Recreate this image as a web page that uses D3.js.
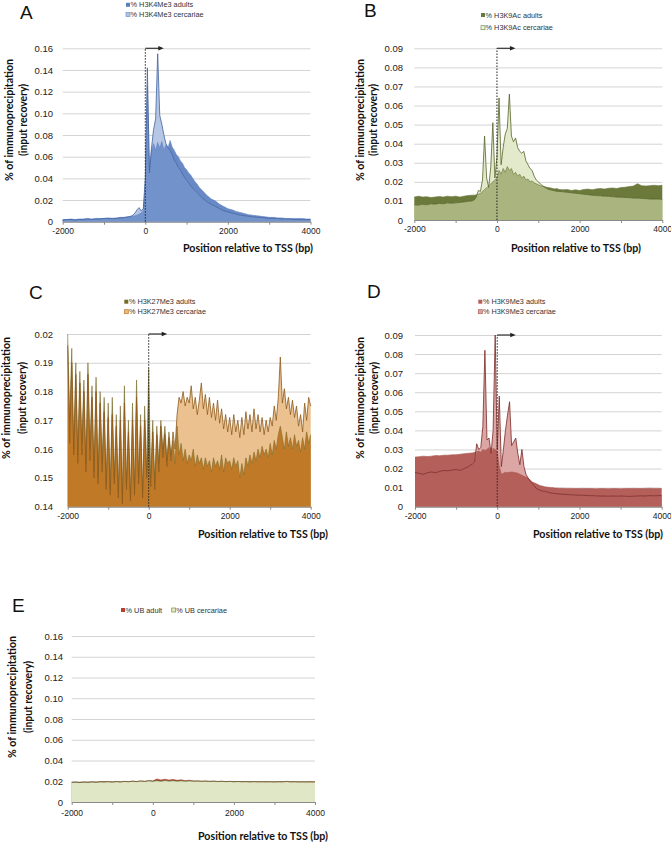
<!DOCTYPE html>
<html><head><meta charset="utf-8">
<script src="https://cdn.jsdelivr.net/npm/d3@7"></script>
<style>body{margin:0;background:#fff}svg{display:block}</style>
</head><body>
<script>
// ---------- shared axis data ----------
const xTickValues = [-2000, -1000, 0, 1000, 2000, 3000, 4000];
const xTickLabels = ["-2000", "", "0", "", "2000", "", "4000"];
const xTitle = "Position relative to TSS (bp)";
const yTitle1 = "% of immunoprecipitation";
const yTitle2 = "(input recovery)";

// positions (bp) used by panels A, B, D
const posABD = [-2000,-1900,-1800,-1700,-1600,-1500,-1400,-1300,-1200,-1100,-1000,-900,-800,-700,-600,
  -550,-500,-450,-400,-350,-300,-250,-200,-150,-100,
  -50,0,50,100,150,200,250,300,350,400,
  450,500,550,600,650,700,750,800,850,900,
  950,1000,1050,1100,1150,1200,1250,1300,1350,1400,
  1450,1500,
  1600,1700,1800,1900,2000,2100,2200,2300,2400,2500,2600,2700,2800,2900,3000,3100,3200,3300,3400,3500,3600,3700,3800,3900,4000];

// positions (bp) for panel C
const posC = [-2000,-1950,-1900,-1850,-1800,-1750,-1700,-1650,-1600,-1550,
  -1500,-1450,-1400,-1350,-1300,-1250,-1200,-1150,-1100,-1050,
  -1000,-950,-900,-850,-800,-750,-700,-650,-600,-550,
  -500,-450,-400,-350,-300,-250,-200,-150,-100,-50,
  0,50,100,150,200,250,300,350,400,450,
  500,550,600,650,700,750,800,850,900,950,
  1000,1050,1100,1150,1200,1250,1300,1350,1400,1450,
  1500,1550,1600,1650,1700,1750,1800,1850,1900,1950,
  2000,2050,2100,2150,2200,2250,2300,2350,2400,2450,
  2500,2550,2600,2650,2700,2750,2800,2850,2900,2950,
  3000,3050,3100,3150,3200,3250,3300,3350,3400,3450,
  3500,3550,3600,3650,3700,3750,3800,3850,3900,3950,
  4000];

// positions (bp) for panel E
const posE = [-2000,-1900,-1800,-1700,-1600,-1500,-1400,-1300,-1200,-1100,
  -1000,-900,-800,-700,-600,-500,-400,-300,-200,-100,
  0,100,200,300,400,500,600,700,800,900,
  1000,1100,1200,1300,1400,1500,1600,1700,1800,1900,
  2000,2100,2200,2300,2400,2500,2600,2700,2800,2900,
  3000,3100,3200,3300,3400,3500,3600,3700,3800,3900,
  4000];

// ---------- Panel A: H3K4Me3 ----------
const h3k4AdultsName = "% H3K4Me3 adults";
const h3k4CercName = "% H3K4Me3 cercariae";
const h3k4Adults = [0.002,0.002,0.0025,0.002,0.0025,0.0025,0.003,0.0025,0.003,0.003,0.003,0.0035,0.003,0.0035,0.004,
  0.004,0.004,0.0045,0.0045,0.005,0.005,0.0055,0.006,0.007,0.008,
  0.010,0.030,0.125,0.050,0.065,0.072,0.066,0.073,0.068,0.074,
  0.066,0.071,0.068,0.075,0.069,0.066,0.062,0.060,0.056,0.054,
  0.050,0.048,0.045,0.043,0.040,0.037,0.035,0.032,0.030,0.028,
  0.026,0.024,
  0.021,0.019,0.016,0.014,0.012,0.011,0.0095,0.0085,0.0075,0.0065,0.006,0.0055,0.005,0.0045,0.004,0.004,0.0035,0.0035,0.003,0.003,0.003,0.003,0.003,0.0025,0.0025];
const h3k4Cerc = [0.0015,0.002,0.002,0.0015,0.002,0.002,0.0025,0.002,0.0025,0.0025,0.003,0.003,0.003,0.003,0.0035,
  0.0035,0.004,0.004,0.0045,0.005,0.006,0.008,0.011,0.013,0.010,
  0.012,0.040,0.142,0.045,0.068,0.085,0.095,0.155,0.098,0.090,
  0.080,0.072,0.068,0.066,0.062,0.057,0.054,0.050,0.048,0.044,
  0.041,0.038,0.036,0.033,0.031,0.029,0.027,0.025,0.023,0.021,
  0.020,0.018,
  0.016,0.014,0.012,0.010,0.009,0.008,0.007,0.006,0.0055,0.005,0.0045,0.004,0.004,0.0035,0.003,0.003,0.003,0.0025,0.0025,0.0025,0.002,0.002,0.002,0.002,0.002];
const yTicksA = [0,0.02,0.04,0.06,0.08,0.10,0.12,0.14,0.16];
const yLabelsA = ["0","0.02","0.04","0.06","0.08","0.10","0.12","0.14","0.16"];

// ---------- Panel B: H3K9Ac ----------
const h3k9acAdultsName = "% H3K9Ac adults";
const h3k9acCercName = "% H3K9Ac cercariae";
const h3k9acAdults = [0.012,0.0125,0.012,0.0122,0.0118,0.012,0.0123,0.012,0.0125,0.0122,0.0125,0.012,0.0125,0.0128,0.013,
  0.013,0.0132,0.0135,0.014,0.015,0.016,0.017,0.018,0.019,0.020,
  0.021,0.022,0.026,0.024,0.027,0.025,0.028,0.026,0.027,0.024,
  0.025,0.023,0.024,0.022,0.023,0.021,0.0215,0.020,0.0205,0.0195,
  0.019,0.0185,0.018,0.0178,0.0175,0.0172,0.017,0.0168,0.0165,0.0163,
  0.0165,0.016,
  0.0158,0.016,0.0155,0.0158,0.0155,0.016,0.0162,0.0158,0.0163,0.0165,0.0162,0.0166,0.0168,0.0165,0.017,0.0172,0.0175,0.0178,0.019,0.018,0.0178,0.018,0.0182,0.018,0.0182];
const h3k9acCerc = [0.008,0.0078,0.0082,0.008,0.0085,0.0083,0.0087,0.0085,0.009,0.0088,0.009,0.0092,0.0095,0.0098,0.010,
  0.0105,0.012,0.0155,0.015,0.021,0.044,0.022,0.017,0.028,0.051,
  0.022,0.033,0.064,0.029,0.038,0.045,0.048,0.066,0.044,0.041,
  0.043,0.038,0.036,0.035,0.036,0.031,0.029,0.027,0.026,0.023,
  0.021,0.020,0.019,0.018,0.0172,0.0165,0.016,0.0158,0.0155,0.0153,
  0.015,0.015,
  0.0148,0.0145,0.0143,0.014,0.0138,0.0135,0.0133,0.013,0.0128,0.0127,0.0125,0.0124,0.0122,0.012,0.012,0.0118,0.0117,0.0115,0.0115,0.0113,0.0112,0.011,0.011,0.011,0.0108];
const yTicksB = [0,0.01,0.02,0.03,0.04,0.05,0.06,0.07,0.08,0.09];
const yLabelsB = ["0","0.01","0.02","0.03","0.04","0.05","0.06","0.07","0.08","0.09"];

// ---------- Panel C: H3K27Me3 ----------
const h3k27AdultsName = "% H3K27Me3 adults";
const h3k27CercName = "% H3K27Me3 cercariae";
const h3k27Adults = [0.200,0.170,0.195,0.160,0.190,0.158,0.187,0.162,0.184,0.155,
  0.190,0.160,0.182,0.152,0.185,0.150,0.180,0.155,0.178,0.148,
  0.176,0.146,0.178,0.150,0.172,0.145,0.175,0.142,0.182,0.148,
  0.170,0.143,0.176,0.146,0.184,0.150,0.172,0.145,0.175,0.152,
  0.188,0.150,0.170,0.148,0.168,0.155,0.170,0.160,0.168,0.156,
  0.166,0.158,0.163,0.155,0.168,0.158,0.162,0.156,0.160,0.155,
  0.158,0.156,0.160,0.154,0.158,0.155,0.157,0.153,0.157,0.154,
  0.156,0.152,0.157,0.154,0.156,0.153,0.158,0.152,0.157,0.155,
  0.156,0.153,0.157,0.154,0.156,0.150,0.155,0.151,0.157,0.154,
  0.158,0.155,0.159,0.156,0.160,0.157,0.161,0.158,0.160,0.157,
  0.162,0.158,0.163,0.160,0.165,0.168,0.164,0.160,0.166,0.161,
  0.164,0.160,0.165,0.161,0.163,0.159,0.164,0.160,0.166,0.162,
  0.165];
const h3k27Cerc = [0.196,0.162,0.190,0.158,0.186,0.155,0.183,0.158,0.180,0.152,
  0.186,0.156,0.178,0.150,0.180,0.148,0.176,0.152,0.173,0.146,
  0.171,0.144,0.172,0.148,0.168,0.143,0.170,0.141,0.176,0.146,
  0.166,0.142,0.170,0.144,0.178,0.148,0.168,0.143,0.170,0.150,
  0.160,0.147,0.166,0.146,0.165,0.152,0.168,0.157,0.165,0.154,
  0.164,0.156,0.166,0.160,0.172,0.178,0.176,0.180,0.175,0.178,
  0.176,0.182,0.174,0.178,0.172,0.177,0.183,0.174,0.179,0.172,
  0.178,0.171,0.176,0.170,0.177,0.169,0.174,0.167,0.172,0.166,
  0.171,0.165,0.172,0.166,0.170,0.164,0.171,0.165,0.173,0.167,
  0.172,0.166,0.174,0.167,0.172,0.166,0.171,0.165,0.170,0.166,
  0.171,0.168,0.175,0.170,0.178,0.192,0.176,0.181,0.174,0.178,
  0.172,0.177,0.171,0.175,0.168,0.172,0.166,0.176,0.170,0.178,
  0.175];
const yTicksC = [0.14,0.15,0.16,0.17,0.18,0.19,0.20];
const yLabelsC = ["0.14","0.15","0.16","0.17","0.18","0.19","0.02"];

// ---------- Panel D: H3K9Me3 ----------
const h3k9meAdultsName = "% H3K9Me3 adults";
const h3k9meCercName = "% H3K9Me3 cercariae";
const h3k9meAdults = [0.026,0.0262,0.0265,0.0263,0.0265,0.0268,0.0267,0.027,0.027,0.0272,0.0272,0.0275,0.0278,0.028,0.0282,
  0.0285,0.0288,0.029,0.0285,0.030,0.0295,0.030,0.031,0.030,0.0305,
  0.030,0.029,0.021,0.017,0.0175,0.018,0.0178,0.018,0.0182,0.018,
  0.0178,0.0175,0.017,0.0165,0.016,0.0155,0.015,0.014,0.013,0.0125,
  0.012,0.0115,0.011,0.0108,0.0105,0.0103,0.0102,0.010,0.010,0.0098,
  0.0098,0.0097,
  0.0097,0.0096,0.0096,0.0095,0.0095,0.0096,0.0095,0.0095,0.0094,0.0095,0.0095,0.0094,0.0095,0.0095,0.0094,0.0095,0.0095,0.0096,0.0095,0.0095,0.0096,0.0097,0.0096,0.0096,0.0095];
const h3k9meCerc = [0.018,0.0175,0.017,0.0178,0.0182,0.0178,0.0185,0.019,0.0188,0.0192,0.0195,0.019,0.020,0.021,0.0225,
  0.0235,0.033,0.030,0.031,0.042,0.082,0.035,0.036,0.028,0.040,
  0.090,0.030,0.058,0.021,0.030,0.040,0.048,0.055,0.032,0.034,
  0.036,0.028,0.022,0.030,0.021,0.017,0.015,0.0135,0.012,0.011,
  0.0095,0.009,0.0085,0.0082,0.008,0.0078,0.0075,0.0072,0.007,0.007,
  0.0068,0.0067,
  0.0065,0.0064,0.0062,0.0062,0.006,0.006,0.0058,0.0058,0.0057,0.0056,0.0056,0.0055,0.0056,0.0055,0.0056,0.0055,0.0054,0.0055,0.0056,0.0057,0.0056,0.0058,0.0057,0.0058,0.0058];
const yTicksD = yTicksB;
const yLabelsD = yLabelsB;

// ---------- Panel E: UB ----------
const ubAdultName = "% UB adult";
const ubCercName = "% UB cercariae";
const ubAdult = [0.0188,0.0190,0.0187,0.0191,0.0189,0.0193,0.0190,0.0194,0.0197,0.0195,
  0.0192,0.0196,0.0193,0.0198,0.0195,0.0200,0.0196,0.0202,0.0198,0.0206,
  0.0203,0.0222,0.0212,0.0220,0.0211,0.0218,0.0209,0.0214,0.0206,0.0210,
  0.0203,0.0202,0.0199,0.0201,0.0198,0.0200,0.0197,0.0199,0.0196,0.0198,
  0.0195,0.0197,0.0195,0.0196,0.0194,0.0196,0.0194,0.0195,0.0194,0.0195,
  0.0193,0.0195,0.0194,0.0197,0.0194,0.0195,0.0193,0.0194,0.0193,0.0194,
  0.0193];
const ubCerc = [0.0190,0.0192,0.0188,0.0193,0.0190,0.0195,0.0191,0.0196,0.0192,0.0197,
  0.0193,0.0198,0.0194,0.0199,0.0196,0.0201,0.0197,0.0203,0.0199,0.0205,
  0.0200,0.0206,0.0201,0.0207,0.0202,0.0206,0.0201,0.0205,0.0200,0.0204,
  0.0201,0.0203,0.0200,0.0202,0.0199,0.0201,0.0198,0.0200,0.0197,0.0199,
  0.0196,0.0198,0.0196,0.0197,0.0195,0.0197,0.0195,0.0196,0.0195,0.0196,
  0.0194,0.0196,0.0195,0.0199,0.0195,0.0196,0.0194,0.0195,0.0194,0.0195,
  0.0194];
const yTicksE = yTicksA;
const yLabelsE = yLabelsA;

// ---------- drawing ----------
const svg = d3.select("body").append("svg")
  .attr("width", 671).attr("height", 842)
  .style("font-family", "'Liberation Sans', Arial, sans-serif");

const TITLE_FONT = "Lato, 'Open Sans', sans-serif";

function panel(cfg) {
  const g = svg.append("g");
  const x = d3.scaleLinear().domain([xTickValues[0], xTickValues[xTickValues.length - 1]]).range([cfg.x0, cfg.x1]);
  const y = d3.scaleLinear().domain([cfg.yTicks[0], cfg.yTicks[cfg.yTicks.length - 1]]).range([cfg.yb, cfg.yt]);

  // grid + y tick labels
  const ya = g.append("g").attr("transform", `translate(${cfg.x0},0)`)
    .call(d3.axisLeft(y).tickValues(cfg.yTicks).tickSize(-(cfg.x1 - cfg.x0)).tickSizeOuter(0)
      .tickPadding(cfg.x0 - cfg.labelRight).tickFormat((d, i) => cfg.yLabels[i]));
  ya.select(".domain").remove();
  ya.selectAll("line").attr("stroke", "#d4d4d4").attr("stroke-width", 1);
  ya.selectAll("text").attr("font-size", 9.5).attr("fill", "#222")
    .style("font-family", "'Liberation Sans', Arial, sans-serif");

  // areas
  const data = cfg.pos.map((p, i) => ({ p, a: cfg.adult[i], c: cfg.cerc[i] }))
    .filter(d => d.a !== undefined && d.c !== undefined);
  const mk = f => d3.area().x(d => x(d.p)).y0(cfg.yb).y1(d => y(f(d)));
  g.append("path").datum(data).attr("d", mk(d => d.a)).attr("fill", cfg.col.aOnly);
  g.append("path").datum(data).attr("d", mk(d => d.c)).attr("fill", cfg.col.cOnly);
  g.append("path").datum(data).attr("d", mk(d => Math.min(d.a, d.c))).attr("fill", cfg.col.mid);
  g.append("path").datum(data).attr("d", d3.line().x(d => x(d.p)).y(d => y(d.a)))
    .attr("fill", "none").attr("stroke", cfg.col.aLine).attr("stroke-width", 0.6);
  g.append("path").datum(data).attr("d", d3.line().x(d => x(d.p)).y(d => y(d.c)))
    .attr("fill", "none").attr("stroke", cfg.col.cLine).attr("stroke-width", 0.8);

  // x axis
  const xa = g.append("g").attr("transform", `translate(0,${cfg.yb})`)
    .call(d3.axisBottom(x).tickValues(xTickValues).tickSize(3).tickSizeOuter(0).tickPadding(cfg.xPad || 3)
      .tickFormat((d, i) => xTickLabels[i]));
  xa.select(".domain").attr("stroke", "#8a8a8a");
  xa.selectAll("line").attr("stroke", "#8a8a8a");
  xa.selectAll("text").attr("font-size", 8.5).attr("fill", "#222")
    .style("font-family", "'Liberation Sans', Arial, sans-serif");

  // TSS marker
  if (cfg.tss) {
    const x0 = x(0);
    g.append("line").attr("x1", x0).attr("x2", x0).attr("y1", cfg.yb).attr("y2", cfg.yt)
      .attr("stroke", "#222").attr("stroke-width", 1).attr("stroke-dasharray", "1.5,1.5");
    g.append("line").attr("x1", x0).attr("x2", x0 + 14).attr("y1", cfg.yt).attr("y2", cfg.yt)
      .attr("stroke", "#333").attr("stroke-width", 1.2);
    g.append("path").attr("d", `M${x0 + 13},${cfg.yt - 2.3}L${x0 + 18.5},${cfg.yt}L${x0 + 13},${cfg.yt + 2.3}Z`)
      .attr("fill", "#222");
  }

  // panel letter
  g.append("text").attr("x", cfg.letter.x).attr("y", cfg.letter.y).text(cfg.letter.t)
    .attr("font-size", 19).attr("fill", "#111");

  // legend
  cfg.legend.forEach(l => {
    g.append("rect").attr("x", l.x).attr("y", l.y - 2).attr("width", 4).attr("height", 4)
      .attr("fill", l.fill).attr("stroke", l.stroke || "none").attr("stroke-width", 0.7);
    g.append("text").attr("x", l.x + 4.6).attr("y", l.y).attr("dy", "0.35em").text(l.t)
      .attr("font-size", 7.3).attr("fill", "#333");
  });

  // axis titles
  g.append("text").attr("x", cfg.xt.right).attr("y", cfg.xt.y).attr("dy", "0.35em")
    .attr("text-anchor", "end").text(xTitle)
    .attr("font-size", 10.5).attr("font-weight", "bold").attr("fill", "#111")
    .style("font-family", TITLE_FONT)
    .attr("textLength", 130).attr("lengthAdjust", "spacingAndGlyphs");
  [[yTitle1, cfg.yt2.cx1, 122], [yTitle2, cfg.yt2.cx2, 72]].forEach(([t, cx, len]) => {
    g.append("text").attr("transform", `translate(${cx},${cfg.yt2.cy}) rotate(-90)`)
      .attr("text-anchor", "middle").attr("dy", "0.35em").text(t)
      .attr("font-size", 10.5).attr("font-weight", "bold").attr("fill", "#111")
      .style("font-family", TITLE_FONT)
      .attr("textLength", len).attr("lengthAdjust", "spacingAndGlyphs");
  });
}

panel({
  pos: posABD, adult: h3k4Adults, cerc: h3k4Cerc, yTicks: yTicksA, yLabels: yLabelsA,
  x0: 62.7, x1: 310.5, yb: 221.7, yt: 48.3, labelRight: 53, tss: true,
  col: { aOnly: "#6889c5", cOnly: "#b6c6e5", mid: "#7192cb", aLine: "#6384c2", cLine: "#43639f" },
  letter: { t: "A", x: 20, y: 19 },
  legend: [{ x: 126, y: 4.8, t: h3k4AdultsName, fill: "#5c7ebf" },
           { x: 126, y: 14.6, t: h3k4CercName, fill: "#b4c5e4", stroke: "#6f90c9" }],
  xt: { right: 313, y: 248 }, yt2: { cx1: 9, cx2: 23, cy: 120 }
});
panel({
  pos: posABD, adult: h3k9acAdults, cerc: h3k9acCerc, yTicks: yTicksB, yLabels: yLabelsB,
  x0: 414.3, x1: 662.3, yb: 220, yt: 48.3, labelRight: 403, tss: true,
  col: { aOnly: "#6b7a3b", cOnly: "#e3eacb", mid: "#a9b47f", aLine: "#65743a", cLine: "#55632a" },
  letter: { t: "B", x: 364, y: 17 },
  legend: [{ x: 481, y: 15, t: h3k9acAdultsName, fill: "#6b7a3b" },
           { x: 481, y: 27.7, t: h3k9acCercName, fill: "#eef2dc", stroke: "#7d8a4a" }],
  xt: { right: 641, y: 248 }, yt2: { cx1: 360, cx2: 373, cy: 120 }
});
panel({
  pos: posC, adult: h3k27Adults, cerc: h3k27Cerc, yTicks: yTicksC, yLabels: yLabelsC,
  x0: 67.7, x1: 310.7, yb: 506.7, yt: 334, labelRight: 53, tss: true,
  col: { aOnly: "#767133", cOnly: "#ebc18f", mid: "#c07a27", aLine: "#7a6c2c", cLine: "#8f5a1c" },
  letter: { t: "C", x: 29, y: 299 },
  legend: [{ x: 124.3, y: 301.7, t: h3k27AdultsName, fill: "#7a6a2a" },
           { x: 124.3, y: 311.7, t: h3k27CercName, fill: "#eab98a", stroke: "#c07a27" }],
  xt: { right: 328, y: 534 }, yt2: { cx1: 6, cx2: 22, cy: 398 }
});
panel({
  pos: posABD, adult: h3k9meAdults, cerc: h3k9meCerc, yTicks: yTicksD, yLabels: yLabelsD,
  x0: 415, x1: 661.7, yb: 506.7, yt: 335, labelRight: 403, tss: true,
  col: { aOnly: "#b55f5b", cOnly: "#dba6a4", mid: "#b55f5b", aLine: "#a85450", cLine: "#7a2a27" },
  letter: { t: "D", x: 367, y: 298 },
  legend: [{ x: 478.3, y: 301.7, t: h3k9meAdultsName, fill: "#b55f5b" },
           { x: 478.3, y: 311.7, t: h3k9meCercName, fill: "#d9a3a1", stroke: "#b55f5b" }],
  xt: { right: 663, y: 534 }, yt2: { cx1: 360, cx2: 374, cy: 398 }
});
panel({
  pos: posE, adult: ubAdult, cerc: ubCerc, yTicks: yTicksE, yLabels: yLabelsE,
  x0: 71.7, x1: 315, yb: 802, yt: 636, labelRight: 63, tss: false, xPad: 5,
  col: { aOnly: "#b5402e", cOnly: "#dfe7c6", mid: "#dfe7c6", aLine: "#b5402e", cLine: "#5d6632" },
  letter: { t: "E", x: 12, y: 612 },
  legend: [{ x: 121, y: 610, t: ubAdultName, fill: "#b5402e" },
           { x: 171.7, y: 610, t: ubCercName, fill: "#e3ebcb", stroke: "#7c8a3d" }],
  xt: { right: 328, y: 836 }, yt2: { cx1: 12, cx2: 28, cy: 697 }
});
</script>
</body></html>
